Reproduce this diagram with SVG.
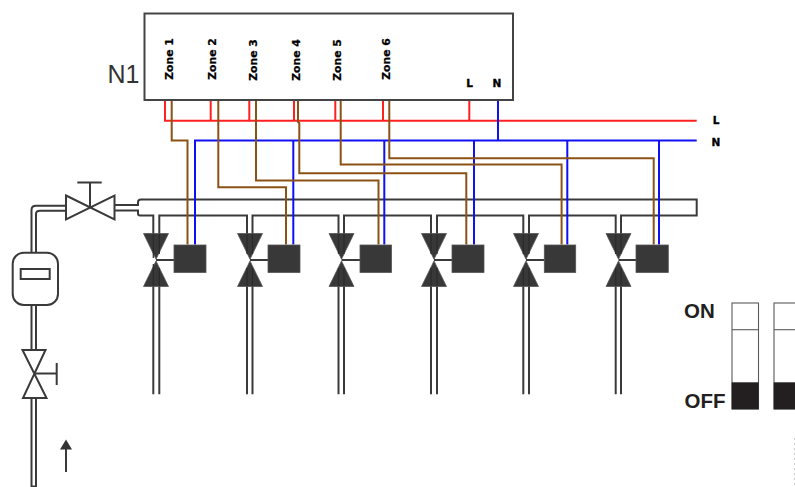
<svg xmlns="http://www.w3.org/2000/svg" width="795" height="487" viewBox="0 0 795 487">
<style>
text{font-family:"DejaVu Sans","Liberation Sans",sans-serif;font-weight:bold;fill:#000}
.z{font-size:10.8px;text-anchor:middle;stroke:#000;stroke-width:.25}
.t{font-size:10.5px;text-anchor:middle;stroke:#000;stroke-width:.35}
.sw{font-family:"Liberation Sans",Arial,sans-serif;font-size:20.5px;fill:#231f20}
.p{fill:none;stroke:#3a3a3a;stroke-width:2}
.v{fill:#fff;stroke:#3a3a3a;stroke-width:2;stroke-linejoin:miter}
.r{fill:none;stroke:#ff2020;stroke-width:2}
.b{fill:none;stroke:#1010f5;stroke-width:2}
.w{fill:none;stroke:#8a5215;stroke-width:2}
.d{fill:#383838;stroke:#555;stroke-width:.8}
.i{fill:none;stroke:#2a2a2a;stroke-width:1.2}
.s{fill:none;stroke:#5a5a5a;stroke-width:1.1}
</style>
<defs>
<g id="zv">
<path class="d" d="M-12.500 233.500H12.500L0 259.200Z"/>
<path class="d" d="M-12.500 286.500H12.500L0 261Z"/>
</g>
</defs>
<g id="connectors">
<g id="pipes">
<path class="p" d="M31.500 252.500V210Q31.500 205.700 36 205.700H66M36 252.500V214Q36 210.700 40 210.700H66"/>
<path class="p" d="M31.500 305V350M36 305V350M31.500 398V486.500H36V398"/>
<path class="p" d="M115 205H138V202Q138 199.500 141 199.500H696.700V215.500H621V240M615.700 240V215.500H529V240M523.300 240V215.500H437V240M431 240V215.500H344V240M338.500 240V215.500H252.500V240M247 240V215.500H159.300V240M153.300 240V215.500H140Q138 215.500 138 213.500V210.500H115"/>
<path class="p" d="M153.300 280V394.300M159.300 280V394.300M247 280V394.300M252.500 280V394.300M338.500 280V394.300M344 280V394.300M431 280V394.300M437 280V394.300M523.300 280V394.300M529 280V394.300M615.700 280V394.300M621 280V394.300"/>
</g>
<g id="live">
<path class="r" d="M165 100V120.800H696.700M210.700 100V120.800M249.300 100V120.800M294 100V120.800M335.300 100V120.800M383 100V120.800M469.300 100V120.800"/>
</g>
<g id="neutral">
<path class="b" d="M498 100V140.500M195 244.500V140.500H696.700M293.300 140.500V244.500M384.300 140.500V244.500M474 140.500V244.500M567.300 140.500V244.500M659 140.500V244.500"/>
</g>
<g id="zones">
<path class="w" d="M171.700 100V140.500H187.500V244.500"/>
<path class="w" d="M218.300 100V187.300H286V244.500"/>
<path class="w" d="M256 100V180.500H378.500V244.500"/>
<path class="w" d="M298 100V122L299.300 123V173.200H466.300V244.500"/>
<path class="w" d="M340.700 100V164.600H561.600V244.500"/>
<path class="w" d="M389.300 100V158.200H653.700V244.500"/>
</g>
</g>
<g id="N1">
<rect x="144.500" y="13.500" width="368.500" height="86.500" fill="#fff" stroke="#444" stroke-width="2"/>
<text x="107.500" y="83.300" style="font-family:'Liberation Sans',Arial,sans-serif;font-weight:normal;font-size:25px;fill:#333;stroke:none">N1</text>
<text class="z" transform="translate(173,59) rotate(-90)">Zone 1</text>
<text class="z" transform="translate(216,59) rotate(-90)">Zone 2</text>
<text class="z" transform="translate(257,60) rotate(-90)">Zone 3</text>
<text class="z" transform="translate(300,60) rotate(-90)">Zone 4</text>
<text class="z" transform="translate(341,60) rotate(-90)">Zone 5</text>
<text class="z" transform="translate(389.500,59) rotate(-90)">Zone 6</text>
<text class="t" x="469.700" y="86.500">L</text>
<text class="t" x="497" y="86.500">N</text>
</g>
<g id="label-L"><text class="t" x="716" y="123.500">L</text></g>
<g id="label-N"><text class="t" x="716" y="146">N</text></g>
<g id="gate-valve">
<path class="v" d="M66 195.500L114.500 219.500V195.500L66 219.500Z"/>
<path class="p" d="M90 207.500V182.500M77.300 182.500H101.700"/>
</g>
<g id="meter">
<rect x="12.700" y="252.700" width="45.300" height="52.300" rx="11" fill="#fff" stroke="#3a3a3a" stroke-width="2"/>
<rect x="20.700" y="269" width="29" height="10" fill="#fff" stroke="#3a3a3a" stroke-width="2"/>
</g>
<g id="stop-valve">
<path class="v" d="M22.500 350H45.500L23 398H46.500Z"/>
<path class="p" d="M34 373.500H56.700M56.700 363V385"/>
</g>
<g id="flow-arrow">
<path class="p" d="M66 472V448"/>
<path fill="#333" d="M66 439.500L72 449.500H60Z"/>
</g>
<g id="zone-valve-1"><use href="#zv" x="156"/><path class="i" d="M153.300 234V258M159.300 234V254M153.300 264V286M159.300 268V286"/><path class="p" d="M156 260H174"/><rect class="d" x="174" y="245" width="32" height="27.500"/></g>
<g id="zone-valve-2"><use href="#zv" x="250"/><path class="i" d="M247 234V254M252.500 234V254M247 268V286M252.500 268V286"/><path class="p" d="M250 260H268"/><rect class="d" x="268" y="245" width="32" height="27.500"/></g>
<g id="zone-valve-3"><use href="#zv" x="341.500"/><path class="i" d="M338.500 234V254M344 234V254M338.500 268V286M344 268V286"/><path class="p" d="M341.500 260H360"/><rect class="d" x="360" y="245" width="31.500" height="27.500"/></g>
<g id="zone-valve-4"><use href="#zv" x="434"/><path class="i" d="M431 234V254M437 234V254M431 268V286M437 268V286"/><path class="p" d="M434 260H452"/><rect class="d" x="452" y="245" width="32" height="27.500"/></g>
<g id="zone-valve-5"><use href="#zv" x="526"/><path class="i" d="M523.300 234V254M529 234V254M523.300 268V286M529 268V286"/><path class="p" d="M526 260H544.300"/><rect class="d" x="544.300" y="245" width="31.400" height="27.500"/></g>
<g id="zone-valve-6"><use href="#zv" x="618.500"/><path class="i" d="M615.700 234V254M621 234V254M615.700 268V286M621 268V286"/><path class="p" d="M618.500 260H636"/><rect class="d" x="636" y="245" width="32.300" height="27.500"/></g>
<g id="switches">
<text class="sw" x="684" y="318.300">ON</text>
<text class="sw" x="684.500" y="408.300">OFF</text>
<rect class="s" x="732" y="303" width="26.500" height="106"/>
<path class="s" d="M732 329.700H758.500"/>
<rect x="731.700" y="382.300" width="27" height="27" fill="#231f20"/>
<rect class="s" x="774" y="303" width="30" height="106"/>
<path class="s" d="M774 329.700H795"/>
<rect x="773.700" y="382.300" width="24" height="27" fill="#231f20"/>
<path d="M794.500 438V487" fill="none" stroke="#ccc" stroke-width="1" stroke-dasharray="2 3"/>
</g>
</svg>
